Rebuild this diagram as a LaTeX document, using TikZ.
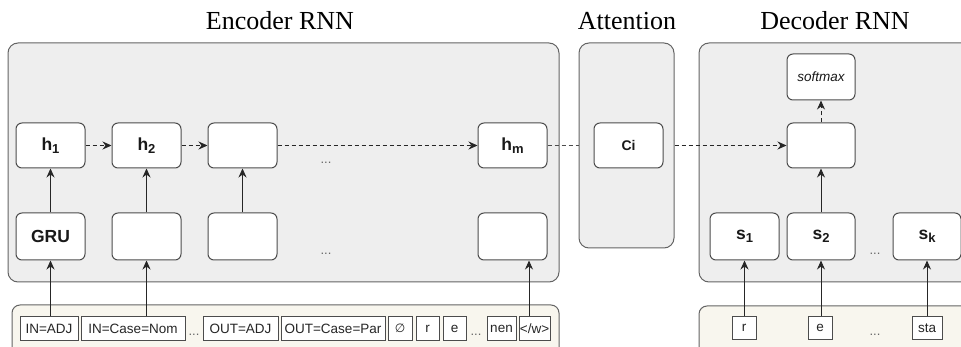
\documentclass[tikz,border=0pt]{standalone}
\usepackage{fontspec}
\setmainfont{Liberation Sans}
\newfontfamily\titlefont{Liberation Serif}
\usetikzlibrary{arrows.meta}
\definecolor{panelfill}{RGB}{238,238,238}
\definecolor{inputfill}{RGB}{248,246,238}
\definecolor{edgegray}{RGB}{100,100,100}
\newcommand\lbl[2]{#1\raisebox{-0.35ex}{\fontsize{13}{13}\selectfont #2}}
\begin{document}
\begin{tikzpicture}[x=1pt,y=-1pt,
  panel/.style={draw=edgegray, fill=panelfill, rounded corners=10pt, line width=1pt, inner sep=0},
  inpanel/.style={draw=edgegray, fill=inputfill, rounded corners=8pt, line width=1pt, inner sep=0},
  cell/.style={draw=black!70, fill=white, rounded corners=6pt, line width=1pt, minimum width=69pt, minimum height=45pt, inner sep=0, font=\fontsize{17.5}{17.5}\selectfont\bfseries, text=black!90},
  tok/.style={draw=black!70, fill=white, line width=1pt, minimum height=23pt, inner sep=0, font=\fontsize{13.5}{13.5}\selectfont, text=black!85},
  dots/.style={font=\fontsize{13}{13}\selectfont, text=black!60, anchor=base},
  ttl/.style={font=\titlefont\fontsize{26}{26}\selectfont, anchor=base},
  arr/.style={-{Stealth[length=9pt,width=8pt,inset=3pt]}, line width=0.9pt, draw=black!85},
  dashline/.style={dash pattern=on 4pt off 3pt, line width=1pt, draw=black!70},
]
\useasboundingbox (0,0) rectangle (961,347);
\clip (0,0) rectangle (961,347);

% titles
\node[ttl] (tenc) at (280,30) {Encoder RNN};
\node[ttl] (tatt) at (627,30) {Attention};
\node[ttl] (tdec) at (835,30) {Decoder RNN};

% panels
\node[panel, minimum width=551pt, minimum height=239pt] (enc) at (283.5,162.5) {};
\node[panel, minimum width=95pt, minimum height=205pt] (att) at (626.5,145.5) {};
\node[panel, minimum width=276pt, minimum height=239pt] (dec) at (837,162.5) {};
\node[inpanel, minimum width=547pt, minimum height=55pt] (encin) at (285.5,332.5) {};
\node[inpanel, minimum width=276pt, minimum height=54pt] (decin) at (837,333) {};

% encoder cells
\node[cell] (h1) at (50.5,145.5) {\lbl{h}{1}};
\node[cell] (h2) at (146.5,145.5) {\lbl{h}{2}};
\node[cell] (h3) at (242.5,145.5) {};
\node[cell] (hm) at (512.5,145.5) {\lbl{h}{m}};
\node[cell, minimum height=47pt] (g1) at (50.5,236.5) {GRU};
\node[cell, minimum height=47pt] (g2) at (146.5,236.5) {};
\node[cell, minimum height=47pt] (g3) at (242.5,236.5) {};
\node[cell, minimum height=47pt] (gm) at (512.5,236.5) {};
\node[dots] (d1) at (326,164) {...};
\node[dots] (d2) at (326,255) {...};

% attention
\node[cell, font=\fontsize{14}{14}\selectfont\bfseries] (ci) at (628.5,145.5) {Ci};

% decoder
\node[cell, minimum width=68pt] (dc) at (821,145.5) {};
\node[cell, minimum width=68pt, minimum height=46pt, font=\fontsize{13.5}{13.5}\selectfont\itshape] (sm) at (821,77) {softmax};
\node[cell, minimum width=69pt, minimum height=47pt] (s1) at (744.5,236.5) {\lbl{s}{1}};
\node[cell, minimum width=68pt, minimum height=47pt] (s2) at (821,236.5) {\lbl{s}{2}};
\node[cell, minimum width=68pt, minimum height=47pt] (sk) at (927,236.5) {\lbl{s}{k}};
\node[dots] (d3) at (875,255) {...};

% encoder tokens
\node[tok, minimum width=58pt] (t1) at (49,328.5) {IN=ADJ};
\node[tok, minimum width=104pt] (t2) at (133,328.5) {IN=Case=Nom};
\node[dots] (d4) at (194,335) {...};
\node[tok, minimum width=75pt] (t3) at (240.5,328.5) {OUT=ADJ};
\node[tok, minimum width=104pt] (t4) at (333,328.5) {OUT=Case=Par};
\node[tok, minimum width=24pt] (t5) at (400,328.5) {\fontspec{DejaVu Sans}\fontsize{12}{12}\selectfont ∅};
\node[tok, minimum width=23pt] (t6) at (427.5,328.5) {r};
\node[tok, minimum width=23pt] (t7) at (454.5,328.5) {e};
\node[dots] (d5) at (476,335) {...};
\node[tok, minimum width=29pt] (t8) at (501.5,328.5) {nen};
\node[tok, minimum width=31pt] (t9) at (534.5,328.5) {</w>};

% decoder tokens
\node[tok, minimum width=24pt] (r1) at (744,328) {r};
\node[tok, minimum width=24pt] (r2) at (820,328) {e};
\node[dots] (d6) at (875,335) {...};
\node[tok, minimum width=30pt] (r3) at (927,328) {sta};

% recurrent connections
\draw[dashline, arr] (h1) -- (h2);
\draw[dashline, arr] (h2) -- (h3);
\draw[dashline, arr] (h3) -- (hm);
\draw[dashline] (hm.east) -- (att.west |- hm.east);
\draw[dashline, arr] (att.east |- dc.west) -- (dc.west);
\draw[dashline, arr] (dc) -- (sm);

% GRU to hidden
\draw[arr] (g1) -- (h1);
\draw[arr] (g2) -- (h2);
\draw[arr] (g3) -- (h3);
\draw[arr] (s2) -- (dc);

% inputs
\draw[arr] (g1.south |- t1.north) -- (g1.south);
\draw[arr] (g2.south |- t2.north) -- (g2.south);
\draw[arr] ([xshift=-5.5pt]t9.north) -- ([xshift=-5.5pt]t9.north |- gm.south);
\draw[arr] (s1.south |- r1.north) -- (s1.south);
\draw[arr] (s2.south |- r2.north) -- (s2.south);
\draw[arr] (sk.south |- r3.north) -- (sk.south);
\end{tikzpicture}
\end{document}
